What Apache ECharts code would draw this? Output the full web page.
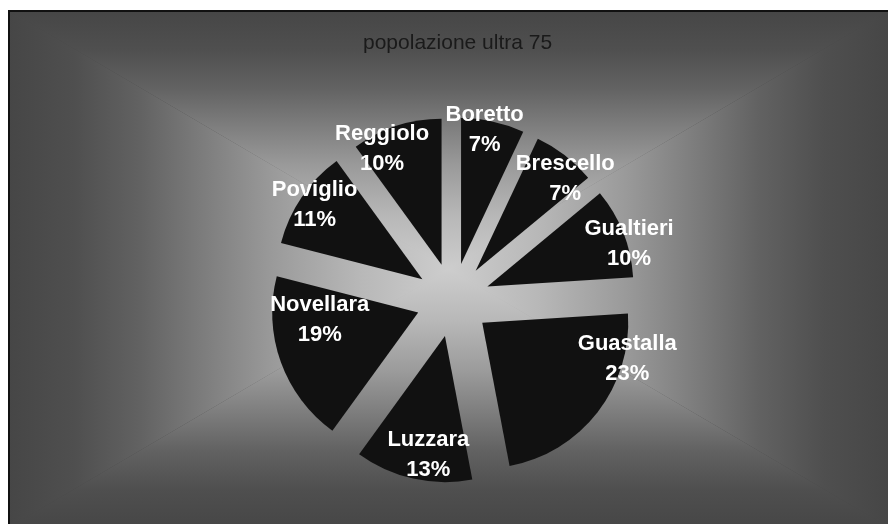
<!DOCTYPE html>
<html>
<head>
<meta charset="utf-8">
<script src="https://cdn.jsdelivr.net/npm/echarts@6/dist/echarts.min.js"></script>
<style>
  html, body { margin: 0; padding: 0; background: #ffffff; }
  #chart { width: 888px; height: 524px; }
</style>
</head>
<body>
<div id="chart"></div>
<script>
// ---- data ----
const title = 'popolazione ultra 75';
const categories = ['Boretto', 'Brescello', 'Gualtieri', 'Guastalla', 'Luzzara', 'Novellara', 'Poviglio', 'Reggiolo'];
const values = [7, 7, 10, 23, 13, 19, 11, 10];

// ---- style ----
const FONT = '"Liberation Sans", Arial, sans-serif';
const FRAME = { l: 8, t: 10, r: 890, b: 528 };
const GC = { x: (FRAME.l + FRAME.r) / 2, y: (FRAME.t + FRAME.b) / 2 };
const stops = [
  { offset: 0, color: '#464646' },
  { offset: 0.15, color: '#4f4f4f' },
  { offset: 0.3, color: '#626262' },
  { offset: 0.45, color: '#7e7e7e' },
  { offset: 0.6, color: '#9a9a9a' },
  { offset: 0.8, color: '#b8b8b8' },
  { offset: 1, color: '#cdcdcd' }
];
function grad(x, y, x2, y2) {
  return { type: 'linear', x: x, y: y, x2: x2, y2: y2, global: true, colorStops: stops };
}
function tri(points, fill) {
  return { type: 'polygon', silent: true, z: -10, shape: { points: points }, style: { fill: fill } };
}
// label nudges (dx, dy) from the default inside position, per slice
const labelNudge = [[7, -60], [43, -32], [71, -14], [85, -10], [0, 45], [-27, -18], [-45, -32], [-36, -44]];

const chart = echarts.init(document.getElementById('chart'), null, { renderer: 'canvas' });

const option = {
  animation: false,
  backgroundColor: '#ffffff',
  title: {
    text: title,
    left: 358,
    top: 28,
    textStyle: { fontFamily: FONT, fontSize: 21, fontWeight: 'normal', color: '#1a1a1a' }
  },
  graphic: [
    {
      type: 'rect', silent: true, z: -20,
      shape: { x: FRAME.l, y: FRAME.t, width: FRAME.r - FRAME.l, height: FRAME.b - FRAME.t },
      style: { fill: { type: 'radial', x: 0.5, y: 0.5, r: 0.6, colorStops: stops.slice().reverse().map(function (s) { return { offset: 1 - s.offset, color: s.color }; }) } }
    },
    tri([[FRAME.l, FRAME.t], [FRAME.r, FRAME.t], [GC.x, GC.y]], grad(0, FRAME.t, 0, GC.y)),
    tri([[FRAME.l, FRAME.b], [FRAME.r, FRAME.b], [GC.x, GC.y]], grad(0, FRAME.b, 0, GC.y)),
    tri([[FRAME.l, FRAME.t], [FRAME.l, FRAME.b], [GC.x, GC.y]], grad(FRAME.l, 0, GC.x, 0)),
    tri([[FRAME.r, FRAME.t], [FRAME.r, FRAME.b], [GC.x, GC.y]], grad(FRAME.r, 0, GC.x, 0)),
    {
      type: 'polyline', silent: true, z: -5,
      shape: { points: [[FRAME.l + 1, FRAME.b], [FRAME.l + 1, FRAME.t + 1], [FRAME.r, FRAME.t + 1]] },
      style: { stroke: '#111111', lineWidth: 2, fill: null }
    }
  ],
  series: [{
    type: 'pie',
    center: [453, 300],
    radius: 146,
    startAngle: 90,
    clockwise: true,
    selectedMode: 'multiple',
    selectedOffset: 37,
    percentPrecision: 0,
    avoidLabelOverlap: false,
    emphasis: { disabled: true },
    itemStyle: { color: '#111111', borderWidth: 0 },
    label: {
      show: true,
      position: 'inside',
      formatter: '{b}\n{d}%',
      color: '#ffffff',
      fontFamily: FONT,
      fontSize: 22,
      fontWeight: 'bold',
      lineHeight: 30,
      align: 'center'
    },
    labelLine: { show: false },
    labelLayout: function (params) {
      const n = labelNudge[params.dataIndex] || [0, 0];
      return { dx: n[0], dy: n[1] };
    },
    data: categories.map(function (c, i) {
      return { name: c, value: values[i], selected: true };
    })
  }]
};
chart.setOption(option);
</script>
</body>
</html>
